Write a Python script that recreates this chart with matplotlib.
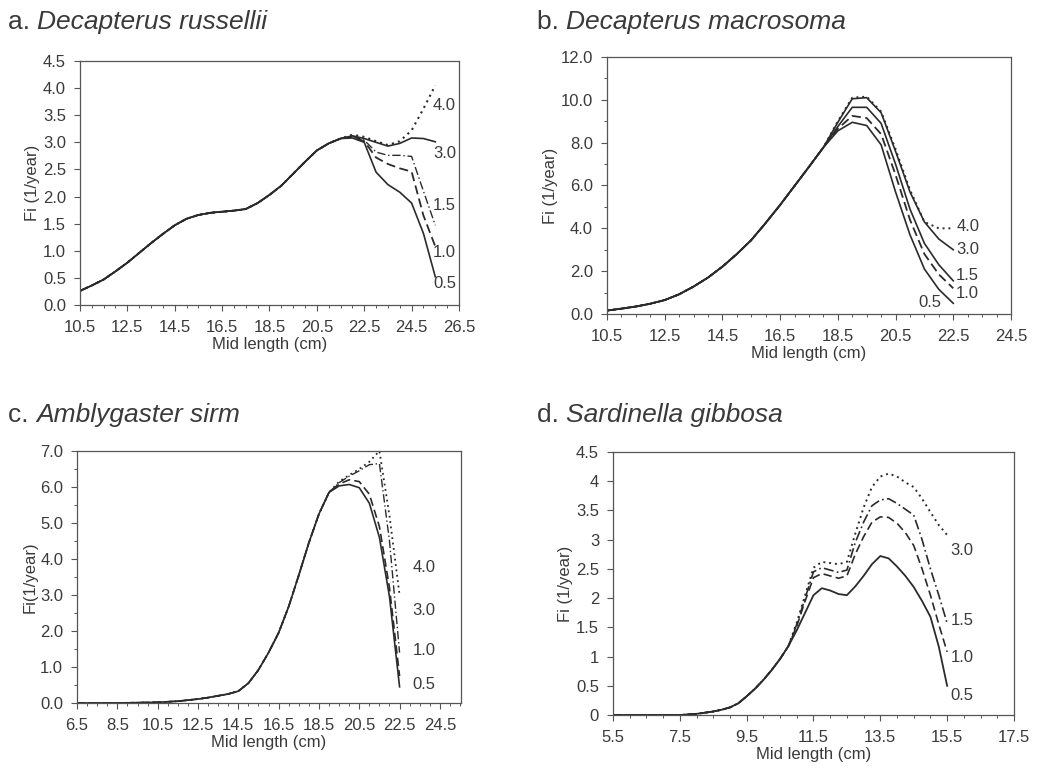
import matplotlib
matplotlib.use("Agg")
import matplotlib.pyplot as plt
import numpy as np
from matplotlib.ticker import MultipleLocator, FormatStrFormatter, FuncFormatter

plt.rcParams["font.family"] = ["Liberation Sans", "DejaVu Sans"]

INK = "#2b2b2b"
TEXT = "#3a3a3a"

# ---- a. Decapterus russellii -------------------------------------------------
a_x = np.arange(10.5, 25.51, 0.5)
a_base = [0.26, 0.36, 0.47, 0.62, 0.78, 0.96, 1.14, 1.31, 1.47, 1.59, 1.66, 1.70,
          1.72, 1.74, 1.77, 1.88, 2.03, 2.20, 2.42, 2.64, 2.85, 2.98, 3.07]
# 22.0 .. 25.5
a_f05 = [3.08, 3.00, 2.45, 2.22, 2.08, 1.88, 1.32, 0.52]
a_f10 = [3.10, 3.02, 2.72, 2.60, 2.52, 2.46, 1.65, 1.08]
a_f15 = [3.11, 3.04, 2.82, 2.76, 2.76, 2.74, 2.10, 1.47]
a_f30 = [3.12, 3.07, 3.00, 2.93, 2.98, 3.08, 3.07, 3.01]
a_f40 = [3.14, 3.10, 3.02, 2.95, 3.02, 3.22, 3.62, 4.05]
a_labels = ["0.5", "1.0", "1.5", "3.0", "4.0"]
a_label_y = [0.39, 0.96, 1.83, 2.80, 3.68]

# ---- b. Decapterus macrosoma -------------------------------------------------
b_x = np.arange(10.5, 22.51, 0.5)
b_base = [0.16, 0.25, 0.35, 0.48, 0.65, 0.92, 1.28, 1.70, 2.21, 2.80, 3.45, 4.25,
          5.09, 5.98, 6.87, 7.78]
# 18.5 .. 22.5
b_f05 = [8.55, 8.95, 8.80, 7.90, 5.70, 3.70, 2.10, 1.15, 0.50]
b_f10 = [8.65, 9.25, 9.15, 8.40, 6.50, 4.40, 2.80, 1.85, 1.20]
b_f15 = [8.75, 9.65, 9.65, 8.90, 7.00, 4.90, 3.30, 2.30, 1.55]
b_f30 = [8.95, 10.05, 10.10, 9.40, 7.60, 5.70, 4.30, 3.50, 3.00]
b_f40 = [9.00, 10.10, 10.15, 9.45, 7.70, 5.80, 4.30, 4.00, 4.00]
b_labels = ["0.5", "1.0", "1.5", "3.0", "4.0"]
b_label_xy = [(21.3, 0.55), (22.6, 0.95), (22.6, 1.8), (22.6, 3.0), (22.6, 4.1)]

# ---- c. Amblygaster sirm -----------------------------------------------------
c_x = np.arange(6.5, 22.51, 0.5)
c_base = [0.0, 0.0, 0.0, 0.0, 0.0, 0.005, 0.01, 0.015, 0.02, 0.035, 0.05, 0.08,
          0.11, 0.15, 0.20, 0.25, 0.33, 0.55, 0.92, 1.40, 1.95, 2.68, 3.55, 4.45,
          5.25, 5.85]
# 19.5 .. 22.5
c_f05 = [6.03, 6.07, 5.98, 5.55, 4.60, 2.95, 0.45]
c_f10 = [6.08, 6.20, 6.15, 5.80, 4.90, 3.20, 0.75]
c_f30 = [6.12, 6.30, 6.45, 6.62, 6.65, 4.50, 1.40]
c_f40 = [6.15, 6.33, 6.50, 6.70, 7.00, 5.20, 3.00]
c_labels = ["0.5", "1.0", "3.0", "4.0"]
c_label_y = [0.51, 1.46, 2.57, 3.77]

# ---- d. Sardinella gibbosa ---------------------------------------------------
d_x = np.arange(5.5, 15.51, 0.25)
d_base = [0.0, 0.0, 0.0, 0.0, 0.0, 0.0, 0.0, 0.0, 0.0, 0.01, 0.02, 0.04, 0.06,
          0.09, 0.13, 0.20, 0.32, 0.45, 0.60, 0.77, 0.96, 1.18]
# 11.0 .. 15.5
d_f05 = [1.45, 1.75, 2.05, 2.17, 2.13, 2.07, 2.05, 2.20, 2.38, 2.58, 2.72, 2.68,
         2.54, 2.38, 2.19, 1.95, 1.68, 1.17, 0.50]
d_f10 = [1.52, 1.95, 2.35, 2.42, 2.38, 2.34, 2.38, 2.75, 3.05, 3.30, 3.39, 3.38,
         3.28, 3.12, 2.90, 2.50, 2.05, 1.55, 1.08]
d_f15 = [1.55, 2.00, 2.45, 2.52, 2.48, 2.44, 2.48, 2.95, 3.30, 3.58, 3.68, 3.70,
         3.62, 3.52, 3.42, 3.00, 2.50, 2.05, 1.57]
d_f30 = [1.58, 2.05, 2.52, 2.62, 2.60, 2.58, 2.62, 3.10, 3.55, 3.90, 4.08, 4.13,
         4.08, 3.98, 3.90, 3.70, 3.47, 3.25, 3.08]
d_labels = ["0.5", "1.0", "1.5", "3.0"]
d_label_y = [0.34, 0.98, 1.61, 2.82]

SOLID = "-"
DASHED = (0, (5, 2.5))
DASHDOT = (0, (6, 2, 1, 2))
DOTTED = (0, (1, 2))

TICK_FS = 12
LABEL_FS = 12


def style_axes(ax, xlim, xmajor, ylim, ymajor, yminor, yfmt):
    ax.set_xlim(*xlim)
    ax.set_ylim(*ylim)
    ax.xaxis.set_minor_locator(MultipleLocator(0.5))
    ax.xaxis.set_major_formatter(FormatStrFormatter("%.1f"))
    ax.yaxis.set_major_locator(MultipleLocator(ymajor))
    if yminor:
        ax.yaxis.set_minor_locator(MultipleLocator(yminor))
    ax.yaxis.set_major_formatter(yfmt)
    # length classes start at x.5, so place the major ticks by hand
    ax.set_xticks(np.arange(xlim[0], xlim[1] + 0.01, xmajor))
    ax.tick_params(which="both", direction="out", colors="#555555",
                   labelcolor=TEXT, labelsize=TICK_FS)
    ax.tick_params(which="major", length=4, width=0.8)
    ax.tick_params(which="minor", length=2.5, width=0.7)
    ax.tick_params(axis="x", which="major", pad=7)
    ax.tick_params(axis="y", which="major", pad=6)
    for s in ax.spines.values():
        s.set_color("#555555")
        s.set_linewidth(0.9)
    ax.set_xlabel("Mid length (cm)", fontsize=LABEL_FS, color=TEXT, labelpad=1)


def draw(ax, x, base, tails, styles, widths):
    for tail, ls, lw in zip(tails, styles, widths):
        y = list(base) + list(tail)
        ax.plot(x, y, color=INK, linestyle=ls, linewidth=lw)


fig = plt.figure(figsize=(10.37, 7.70), dpi=100)

ax_a = fig.add_axes([0.0771, 0.6039, 0.3655, 0.3169])
ax_b = fig.add_axes([0.5853, 0.5922, 0.3896, 0.3338])
ax_c = fig.add_axes([0.0743, 0.0870, 0.3703, 0.3273])
ax_d = fig.add_axes([0.5911, 0.0714, 0.3867, 0.3416])

one_dec = FormatStrFormatter("%.1f")
plain = FuncFormatter(lambda v, p: f"{v:g}")

# a
draw(ax_a, a_x, a_base, [a_f05, a_f10, a_f15, a_f30, a_f40],
     [SOLID, DASHED, DASHDOT, SOLID, DOTTED], [1.2, 1.3, 1.0, 1.2, 1.5])
style_axes(ax_a, (10.5, 26.5), 2, (0, 4.5), 0.5, None, one_dec)
ax_a.set_ylabel("Fi (1/year)", fontsize=LABEL_FS, color=TEXT, labelpad=2)
for lab, yv in zip(a_labels, a_label_y):
    ax_a.text(25.4, yv, lab, fontsize=TICK_FS, color=TEXT, va="center", ha="left")

# b
draw(ax_b, b_x, b_base, [b_f05, b_f10, b_f15, b_f30, b_f40],
     [SOLID, DASHED, SOLID, SOLID, DOTTED], [1.2, 1.3, 1.2, 1.2, 1.4])
style_axes(ax_b, (10.5, 24.5), 2, (0, 12), 2, 1, one_dec)
ax_b.set_ylabel("Fi (1/year)", fontsize=LABEL_FS, color=TEXT, labelpad=2)
for lab, (xv, yv) in zip(b_labels, b_label_xy):
    ax_b.text(xv, yv, lab, fontsize=TICK_FS, color=TEXT, va="center", ha="left")

# c
draw(ax_c, c_x, c_base, [c_f05, c_f10, c_f30, c_f40],
     [SOLID, DASHED, DASHDOT, DOTTED], [1.2, 1.2, 1.0, 1.3])
style_axes(ax_c, (6.5, 25.55), 2, (0, 7), 1, 0.5, one_dec)
ax_c.set_xticks(np.arange(6.5, 24.51, 2))
ax_c.set_ylabel("Fi(1/year)", fontsize=LABEL_FS, color=TEXT, labelpad=2)
for lab, yv in zip(c_labels, c_label_y):
    ax_c.text(23.15, yv, lab, fontsize=TICK_FS, color=TEXT, va="center", ha="left")

# d
draw(ax_d, d_x, d_base, [d_f05, d_f10, d_f15, d_f30],
     [SOLID, DASHED, DASHDOT, DOTTED], [1.3, 1.2, 1.2, 1.4])
style_axes(ax_d, (5.5, 17.5), 2, (0, 4.5), 0.5, None, plain)
ax_d.set_ylabel("Fi (1/year)", fontsize=LABEL_FS, color=TEXT, labelpad=2)
for lab, yv in zip(d_labels, d_label_y):
    ax_d.text(15.6, yv, lab, fontsize=TICK_FS, color=TEXT, va="center", ha="left")

# panel titles: letter upright, species name in italics
renderer = fig.canvas.get_renderer()
titles = [("a. ", "Decapterus russellii", 8, 29),
          ("b. ", "Decapterus macrosoma", 537, 29),
          ("c. ", "Amblygaster sirm", 8, 422),
          ("d. ", "Sardinella gibbosa", 537, 422)]
W, H = 1037, 770
for prefix, species, px, py in titles:
    t = fig.text(px / W, 1 - py / H, prefix, fontsize=19, color=TEXT,
                 va="baseline", ha="left")
    bb = t.get_window_extent(renderer=renderer)
    fig.text(bb.x1 / W, 1 - py / H, species, fontsize=19, color=TEXT,
             style="italic", va="baseline", ha="left")

fig.savefig("out.png", dpi=100)
plt.close(fig)
